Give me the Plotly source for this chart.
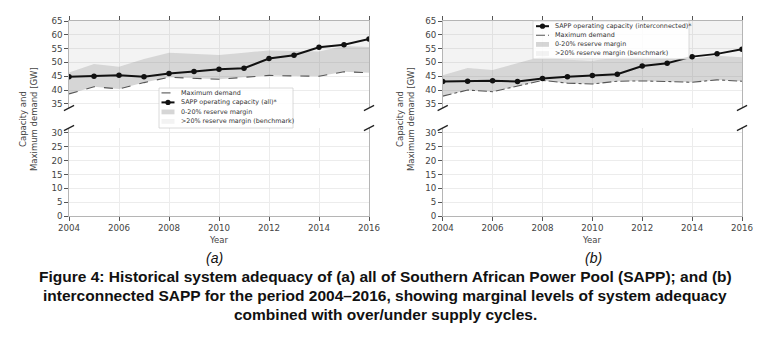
import plotly.graph_objects as go

# ---------------- data ----------------
years = list(range(2004, 2017))
demand_all = [38.6, 41.2, 40.4, 42.7, 44.6, 44.2, 43.9, 44.6, 45.3, 45.1, 45.0, 46.6, 46.3]
capacity_all = [44.8, 45.0, 45.4, 44.8, 46.0, 46.7, 47.5, 47.9, 51.4, 52.6, 55.5, 56.4, 58.5]
demand_ic = [37.8, 40.0, 39.4, 41.5, 43.5, 42.5, 42.2, 43.2, 43.3, 43.1, 42.8, 43.7, 43.2]
capacity_ic = [43.1, 43.2, 43.4, 43.1, 44.2, 44.8, 45.3, 45.7, 48.7, 49.7, 52.1, 53.1, 54.8]
RESERVE = 0.20                      # 0-20 % reserve margin band
upper_range = [33.5, 65]
lower_range = [0, 31.8]
upper_ticks = [35, 40, 45, 50, 55, 60, 65]
lower_ticks = [0, 5, 10, 15, 20, 25, 30]
x_ticks = [2004, 2006, 2008, 2010, 2012, 2014, 2016]

labels_a = ["Maximum demand", "SAPP operating capacity (all)*",
            "0-20% reserve margin", ">20% reserve margin (benchmark)"]
labels_b = ["SAPP operating capacity (interconnected)*", "Maximum demand",
            "0-20% reserve margin", ">20% reserve margin (benchmark)"]

# ---------------- styling ----------------
W, H = 769, 339
OFF = 8          # page body margin of the html page
FONT = "DejaVu Sans"
TXT = "#444444"
BAND = "rgba(120,120,120,0.30)"
BAND_LIGHT = "rgba(120,120,120,0.09)"
SPINE = "#b5b5b5"
GRID = "#ececec"


def px(x):
    return (x - OFF) / W


def py(y):
    return 1 - (y - OFF) / H


fig = go.Figure()


def add_panel(xa, ya, xb, yb, demand, capacity, dash):
    margin = [d * (1 + RESERVE) for d in demand]
    top = [upper_range[1] for _ in demand]
    fig.add_trace(go.Scatter(x=years, y=demand, mode="lines", xaxis=xa, yaxis=ya,
                             line=dict(color="#555555", width=1.1, dash=dash),
                             showlegend=False, hoverinfo="skip"))
    fig.add_trace(go.Scatter(x=years, y=margin, mode="lines", xaxis=xa, yaxis=ya,
                             line=dict(width=0), fill="tonexty", fillcolor=BAND,
                             showlegend=False, hoverinfo="skip"))
    fig.add_trace(go.Scatter(x=years, y=top, mode="lines", xaxis=xa, yaxis=ya,
                             line=dict(width=0), fill="tonexty", fillcolor=BAND_LIGHT,
                             showlegend=False, hoverinfo="skip"))
    fig.add_trace(go.Scatter(x=years, y=capacity, mode="lines+markers", xaxis=xa, yaxis=ya,
                             line=dict(color="#111111", width=2),
                             marker=dict(color="#111111", size=5.5),
                             showlegend=False))
    # same demand series on the lower (broken) axis: all values lie above its range
    fig.add_trace(go.Scatter(x=years, y=demand, mode="lines", xaxis=xb, yaxis=yb,
                             line=dict(color="#555555", width=1.1, dash=dash),
                             showlegend=False, hoverinfo="skip"))


add_panel("x", "y", "x2", "y2", demand_all, capacity_all, "dash")
add_panel("x3", "y3", "x4", "y4", demand_ic, capacity_ic, "dashdot")

xa_dom = [px(69), px(369)]
xb_dom = [px(442.7), px(742)]
up_dom = [py(108), py(21)]
lo_dom = [py(216), py(128)]

common_ax = dict(showgrid=True, gridcolor=GRID, gridwidth=0.8, zeroline=False,
                 showline=True, linecolor=SPINE, linewidth=1.4, automargin=False,
                 ticks="outside", ticklen=3.5, tickwidth=1, tickcolor="#555555",
                 tickfont=dict(family=FONT, size=8.7, color=TXT))

for xname, yname, xdom, ydom, side, yr, yt, showlab in [
        ("xaxis", "yaxis", xa_dom, up_dom, "top", upper_range, upper_ticks, False),
        ("xaxis2", "yaxis2", xa_dom, lo_dom, "bottom", lower_range, lower_ticks, True),
        ("xaxis3", "yaxis3", xb_dom, up_dom, "top", upper_range, upper_ticks, False),
        ("xaxis4", "yaxis4", xb_dom, lo_dom, "bottom", lower_range, lower_ticks, True)]:
    xid = "x" + xname[5:]
    yid = "y" + yname[5:]
    fig.layout[xname] = dict(common_ax, domain=xdom, range=[2004, 2016], anchor=yid,
                             side=side, tickvals=x_ticks, showticklabels=showlab)
    fig.layout[yname] = dict(common_ax, domain=ydom, range=yr, anchor=xid,
                             tickvals=yt, mirror=True)

shapes = []
annotations = []

# axis break marks
for xr, yrs in [("x domain", [("y domain", 0), ("y2 domain", 1)]),
                ("x3 domain", [("y3 domain", 0), ("y4 domain", 1)])]:
    for yr_, yc in yrs:
        for xc in [0, 1]:
            shapes.append(dict(type="line", xref=xr, yref=yr_,
                               x0=xc - 0.017, x1=xc + 0.017,
                               y0=yc - 0.03, y1=yc + 0.03,
                               line=dict(color="#222222", width=1.3)))


def legend(x0, y0, x1, y1, rows, kinds, labels, sw_x0, sw_x1, tx):
    shapes.append(dict(type="rect", xref="paper", yref="paper",
                       x0=px(x0), x1=px(x1), y0=py(y1), y1=py(y0),
                       fillcolor="rgba(255,255,255,0.85)",
                       line=dict(color="#d0d0d0", width=0.8)))
    for yy, kind, lab in zip(rows, kinds, labels):
        if kind in ("dash", "dashdot"):
            shapes.append(dict(type="line", xref="paper", yref="paper",
                               x0=px(sw_x0), x1=px(sw_x1), y0=py(yy), y1=py(yy),
                               line=dict(color="#555555", width=1.1, dash=kind)))
        elif kind == "cap":
            shapes.append(dict(type="line", xref="paper", yref="paper",
                               x0=px(sw_x0), x1=px(sw_x1), y0=py(yy), y1=py(yy),
                               line=dict(color="#111111", width=2)))
            cx = (sw_x0 + sw_x1) / 2
            shapes.append(dict(type="circle", xref="paper", yref="paper",
                               x0=px(cx - 2.6), x1=px(cx + 2.6),
                               y0=py(yy + 2.6), y1=py(yy - 2.6),
                               fillcolor="#111111", line=dict(width=0)))
        else:
            shapes.append(dict(type="rect", xref="paper", yref="paper",
                               x0=px(sw_x0), x1=px(sw_x1), y0=py(yy + 2.4), y1=py(yy - 2.4),
                               fillcolor=BAND if kind == "band" else BAND_LIGHT,
                               line=dict(width=0)))
        annotations.append(dict(xref="paper", yref="paper", x=px(tx), y=py(yy),
                                xanchor="left", yanchor="middle", showarrow=False,
                                text=lab, font=dict(family=FONT, size=6.4, color="#333333")))


legend(159, 88, 293, 128, [92.9, 102.4, 111.9, 121.4],
       ["dash", "cap", "band", "light"], labels_a, 161.5, 174.5, 179)
legend(533, 21, 689, 59, [26.2, 35.3, 44.4, 53.5],
       ["cap", "dashdot", "band", "light"], labels_b, 536, 549, 552.5)

# axis titles
for xc in [28, 405]:
    annotations.append(dict(xref="paper", yref="paper", x=px(xc), y=py(119),
                            xanchor="center", yanchor="middle", showarrow=False, textangle=-90,
                            text="Capacity and<br>Maximum demand [GW]",
                            font=dict(family=FONT, size=8.5, color=TXT)))
for xc in [219, 592]:
    annotations.append(dict(xref="paper", yref="paper", x=px(xc), y=py(239.5),
                            xanchor="center", yanchor="middle", showarrow=False,
                            text="Year", font=dict(family=FONT, size=8.5, color=TXT)))

# panel labels and caption
for xc, lab in [(215, "(a)"), (593, "(b)")]:
    annotations.append(dict(xref="paper", yref="paper", x=px(xc), y=py(258),
                            xanchor="center", yanchor="middle", showarrow=False,
                            text="<i>" + lab + "</i>",
                            font=dict(family="Liberation Sans", size=14, color="#111111")))
caption = ["Figure 4: Historical system adequacy of (a) all of Southern African Power Pool (SAPP); and (b)",
           "interconnected SAPP for the period 2004\u20132016, showing marginal levels of system adequacy",
           "combined with over/under supply cycles."]
for i, line in enumerate(caption):
    annotations.append(dict(xref="paper", yref="paper", x=px(385), y=py(276 + 19 * i),
                            xanchor="center", yanchor="middle", showarrow=False,
                            text="<b>" + line + "</b>",
                            font=dict(family="Liberation Sans", size=15.5, color="#111111")))

fig.update_layout(width=W, height=H, autosize=False,
                  margin=dict(l=0, r=0, t=0, b=0, pad=0, autoexpand=False),
                  paper_bgcolor="white", plot_bgcolor="white",
                  showlegend=False, shapes=shapes, annotations=annotations)

fig.write_html("out.html")
